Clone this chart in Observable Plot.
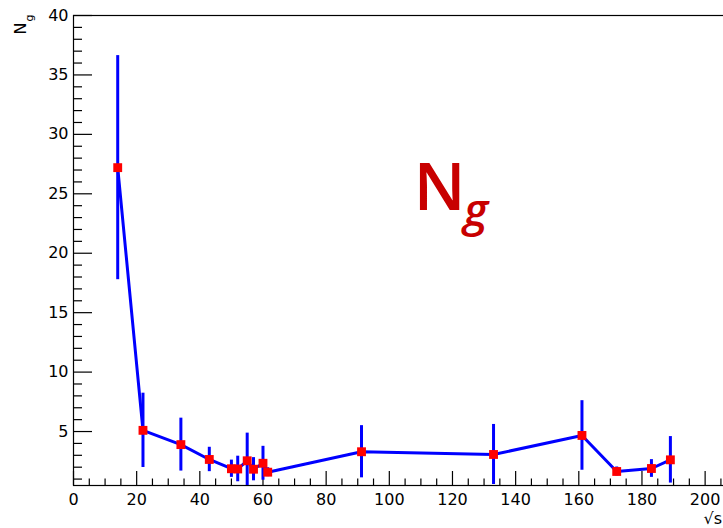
<!DOCTYPE html>
<html>
<head>
<meta charset="utf-8">
<script src="https://cdn.jsdelivr.net/npm/d3@7"></script>
<script src="https://cdn.jsdelivr.net/npm/@observablehq/plot@0.6"></script>
<style>
  html, body { margin: 0; padding: 0; background: #fff; overflow: hidden; }
</style>
</head>
<body>
<div id="chart"></div>
<script>
// Mean gluon multiplicity N_g versus centre-of-mass energy
const energies = [14, 22, 34, 43, 50, 52, 55, 57, 60, 61.5, 91.2, 133, 161, 172, 183, 189];
const ngValues = [27.2, 5.1, 3.9, 2.65, 1.87, 1.85, 2.54, 1.83, 2.33, 1.58, 3.3, 3.07, 4.67, 1.64, 1.89, 2.62];
const ngErrors = [9.3, 3.0, 2.1, 0.9, 0.6, 0.95, 2.2, 0.85, 1.3, 0.25, 2.07, 2.4, 2.8, 0.25, 0.62, 1.83];

// axis ticks
const xMajor = d3.range(0, 220, 20);
const xMinor = d3.range(0, 215, 5).filter(v => v % 20 !== 0);
const xLabels = d3.range(0, 201, 20);
const yMajor = d3.range(5, 41, 5);
const yMinor = d3.range(1, 40, 1).filter(v => v % 5 !== 0);

const points = energies.map((e, i) => ({
  e, ng: ngValues[i], lo: ngValues[i] - ngErrors[i], hi: ngValues[i] + ngErrors[i]
}));

const W = 723, H = 528;
const mL = 73, mR = -29, mT = 15, mB = 43;
const frameW = W - mR - mL, frameH = H - mT - mB;
const blue = "#0000ff", red = "#ff0000";
const font = "DejaVu Sans, Liberation Sans, Arial, sans-serif";

const chart = Plot.plot({
  width: W,
  height: H,
  marginLeft: mL,
  marginRight: mR,
  marginTop: mT,
  marginBottom: mB,
  style: { fontFamily: font, fontSize: "16px", background: "#fff", overflow: "hidden" },
  x: { domain: [0, 215], axis: null },
  y: { domain: [0.46, 40], axis: null },
  marks: [
    Plot.frame({ stroke: "#000", strokeWidth: 1.2 }),
    // inward ticks on the left and bottom axes
    Plot.tickY(yMajor, { y: d => d, insetRight: frameW - 19, stroke: "#000", strokeWidth: 1.2 }),
    Plot.tickY(yMinor, { y: d => d, insetRight: frameW - 9, stroke: "#000", strokeWidth: 1.2 }),
    Plot.tickX(xMajor, { x: d => d, insetTop: frameH - 14, stroke: "#000", strokeWidth: 1.2 }),
    Plot.tickX(xMinor, { x: d => d, insetTop: frameH - 6.5, stroke: "#000", strokeWidth: 1.2 }),
    Plot.axisY(yMajor, { anchor: "left", tickSize: 0, tickPadding: 5, label: null, fontSize: 16, fill: "#000" }),
    Plot.axisX(xLabels, { anchor: "bottom", tickSize: 0, tickPadding: 8, label: null, fontSize: 16, fill: "#000" }),
    // data: connecting line, error bars, markers
    Plot.line(points, { x: "e", y: "ng", stroke: blue, strokeWidth: 3, clip: true }),
    Plot.ruleX(points, { x: "e", y1: "lo", y2: "hi", stroke: blue, strokeWidth: 3, strokeLinecap: "square", clip: true }),
    Plot.dot(points, { x: "e", y: "ng", symbol: "square", r: 5, fill: red, stroke: "none" }),
    // axis titles
    Plot.text(["N"], { frameAnchor: "top-left", dx: -48, dy: 19, rotate: -90, textAnchor: "start", lineAnchor: "bottom", fontSize: 16, fontFamily: font, fill: "#000" }),
    Plot.text(["g"], { frameAnchor: "top-left", dx: -41, dy: 6, rotate: -90, textAnchor: "start", lineAnchor: "bottom", fontSize: 11, fontFamily: font, fill: "#000" }),
    Plot.text(["√s"], { x: () => 199.5, frameAnchor: "bottom", dy: 38, textAnchor: "start", lineAnchor: "bottom", fontSize: 16, fontFamily: font, fill: "#000" }),
    // in-plot label
    Plot.text(["N"], { x: () => 107.7, y: () => 23.6, textAnchor: "start", lineAnchor: "bottom", fontSize: 66, fontWeight: 600, fontFamily: "Open Sans, sans-serif", fill: "#c80000" }),
    Plot.text(["g"], { x: () => 107.7, y: () => 23.6, dx: 50, dy: 16, textAnchor: "start", lineAnchor: "bottom", fontSize: 46, fontWeight: 600, fontStyle: "italic", fontFamily: "Open Sans, sans-serif", fill: "#c80000" })
  ]
});

document.getElementById("chart").appendChild(chart);
</script>
</body>
</html>
